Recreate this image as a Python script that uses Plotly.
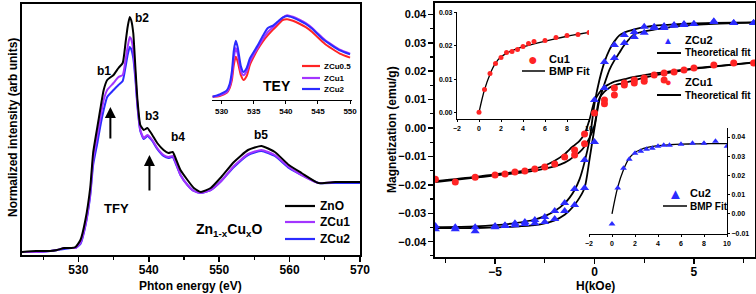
import plotly.graph_objects as go

W, H = 756, 294
FONT = "Liberation Sans, Arial, sans-serif"
VIOLET = "#A335FF"
BLUE = "#2B2BFF"
RED = "#FF2424"

# ---------------- Left panel: TFY O K-edge ----------------
energy = [522, 524, 526, 527, 528, 529, 529.6, 530.3, 531.0, 531.7, 532.1, 532.7, 533.1, 533.6,
          534.1, 535.0, 535.7, 536.3, 536.7, 537.0, 537.3, 537.5, 537.8, 538.1, 538.4, 538.8,
          539.3, 539.8, 540.5, 541.2, 542.1, 542.8, 543.4, 543.8, 544.5, 545.5, 546.4, 547.4,
          548.8, 550.3, 552.1, 554.1, 556.0, 557.9, 559.9, 561.7, 564.1, 566.5, 570]
zno = [0.03, 0.04, 0.04, 0.05, 0.07, 0.07, 0.08, 0.15, 0.35, 0.68, 1.02, 1.28, 1.45, 1.65,
       1.75, 1.80, 1.87, 1.92, 2.12, 2.28, 2.38, 2.35, 2.22, 1.88, 1.55, 1.30,
       1.25, 1.27, 1.20, 1.12, 1.05, 1.02, 1.03, 0.97, 0.85, 0.75, 0.67, 0.63,
       0.67, 0.78, 0.93, 1.05, 1.09, 1.03, 0.90, 0.82, 0.72, 0.73, 0.73]
zcu1 = [0.03, 0.03, 0.04, 0.05, 0.07, 0.07, 0.07, 0.12, 0.30, 0.62, 0.95, 1.20, 1.36, 1.55,
        1.65, 1.72, 1.78, 1.80, 1.95, 2.08, 2.18, 2.16, 2.05, 1.80, 1.50, 1.25,
        1.17, 1.20, 1.15, 1.07, 1.00, 0.98, 0.99, 0.93, 0.80, 0.70, 0.64, 0.62,
        0.65, 0.74, 0.89, 1.01, 1.05, 1.00, 0.88, 0.80, 0.72, 0.73, 0.73]
zcu2 = [0.03, 0.03, 0.04, 0.05, 0.06, 0.07, 0.07, 0.11, 0.29, 0.60, 0.90, 1.12, 1.28, 1.45,
        1.58, 1.65, 1.70, 1.74, 1.88, 2.00, 2.08, 2.06, 1.97, 1.76, 1.48, 1.24,
        1.16, 1.19, 1.14, 1.06, 0.99, 0.97, 0.98, 0.92, 0.80, 0.70, 0.64, 0.62,
        0.65, 0.74, 0.88, 1.00, 1.04, 0.99, 0.87, 0.80, 0.72, 0.72, 0.72]

# ---------------- TEY inset ----------------
tey_energy = [528.6, 529.7, 530.8, 531.25, 531.6, 531.9, 532.2, 532.5, 533.0, 533.4, 533.9, 534.4,
              535.0, 535.6, 536.4, 537.2, 538.0, 538.75, 539.5, 540.2, 541.1, 542.2, 543.1,
              544.1, 545.0, 546.1, 547.2, 548.4, 550.0]
tey_zcu05 = [0.04, 0.05, 0.09, 0.15, 0.25, 0.44, 0.54, 0.48, 0.31, 0.25, 0.30, 0.44,
             0.54, 0.63, 0.73, 0.81, 0.88, 0.94, 1.00, 1.01, 0.99, 0.95, 0.91,
             0.85, 0.78, 0.70, 0.64, 0.58, 0.53]
tey_zcu1 = [0.04, 0.06, 0.10, 0.17, 0.30, 0.53, 0.65, 0.58, 0.36, 0.31, 0.36, 0.48,
            0.57, 0.65, 0.76, 0.85, 0.91, 0.97, 1.03, 1.06, 1.04, 1.00, 0.96,
            0.90, 0.83, 0.75, 0.69, 0.63, 0.58]
tey_zcu2 = [0.04, 0.07, 0.12, 0.20, 0.36, 0.62, 0.74, 0.66, 0.42, 0.35, 0.40, 0.52,
            0.60, 0.68, 0.80, 0.90, 0.93, 0.98, 1.03, 1.05, 1.03, 0.99, 0.95,
            0.89, 0.82, 0.74, 0.68, 0.62, 0.57]

# ---------------- Right panel: M-H loops ----------------
h_desc = [8, 7, 6, 5, 4.5, 4, 3.5, 3, 2.5, 2, 1.5, 1, 0.5, 0, -0.5, -1, -1.5, -2, -2.5, -3,
          -3.5, -4, -4.5, -5, -6, -7, -8]
zcu2_desc = [0.0370, 0.0370, 0.0373, 0.0366, 0.0366, 0.0363, 0.0359, 0.0356, 0.0356, 0.0338,
             0.0327, 0.0292, 0.0232, 0.0099, -0.0113, -0.0215, -0.0264, -0.0292, -0.0313,
             -0.0324, -0.0331, -0.0335, -0.0342, -0.0345, -0.0349, -0.0349, -0.0345]
h_asc = [-8, -7, -6, -5, -4.5, -4, -3.5, -3, -2.5, -2, -1.5, -1, -0.5, 0, 0.5, 1, 1.5, 2, 2.5,
         3, 3.5, 4, 4.5, 5, 6, 7, 8]
zcu2_asc = [-0.0356, -0.0356, -0.0363, -0.0349, -0.0345, -0.0342, -0.0338, -0.0335, -0.0331,
            -0.0320, -0.0292, -0.0271, -0.0211, -0.0049, 0.0141, 0.0246, 0.0299, 0.0320, 0.0335,
            0.0352, 0.0352, 0.0360, 0.0363, 0.0366, 0.0376, 0.0370, 0.0370]
zcu1_desc = [0.0229, 0.0229, 0.0222, 0.0211, 0.0204, 0.0197, 0.0194, 0.0187, 0.0176, 0.0169,
             0.0158, 0.0141, 0.0099, 0.0053, -0.0021, -0.0077, -0.0102, -0.0127, -0.0137,
             -0.0144, -0.0151, -0.0155, -0.0162, -0.0165, -0.0173, -0.0190, -0.0180]
h_asc1 = [-1, -0.5, 0.5, 1, 1.5, 2, 2.5, 3.5]
zcu1_asc = [-0.0095, -0.0055, 0.0085, 0.0116, 0.0151, 0.0158, 0.0165, 0.0169]

h_fit = [-8, -6, -5, -4, -3, -2.5, -2, -1.5, -1.25, -1, -0.75, -0.5, -0.25, 0, 0.25, 0.5,
         0.75, 1, 1.25, 1.5, 2, 2.5, 3, 4, 5, 6, 8]
fit2_desc = [-0.0349, -0.0346, -0.0342, -0.0335, -0.0322, -0.0310, -0.0292, -0.0265, -0.0245,
             -0.0218, -0.0180, -0.0120, -0.0042, 0.0085, 0.0170, 0.0232, 0.0275, 0.0305,
             0.0326, 0.0336, 0.0347, 0.0355, 0.0360, 0.0365, 0.0368, 0.0370, 0.0372]
fit2_asc = [-0.0352, -0.0352, -0.0350, -0.0347, -0.0342, -0.0336, -0.0325, -0.0305, -0.0290,
            -0.0270, -0.0245, -0.0211, -0.0110, 0.0000, 0.0099, 0.0155, 0.0205, 0.0238,
            0.0265, 0.0292, 0.0330, 0.0340, 0.0346, 0.0357, 0.0363, 0.0367, 0.0371]
fit1_desc = [-0.0187, -0.0172, -0.0163, -0.0155, -0.0143, -0.0132, -0.0115, -0.0092, -0.0075,
             -0.0060, -0.0045, -0.0020, 0.0030, 0.0095, 0.0125, 0.0145, 0.0155, 0.0163,
             0.0168, 0.0172, 0.0180, 0.0186, 0.0192, 0.0201, 0.0210, 0.0217, 0.0231]
fit1_asc = [-0.0190, -0.0175, -0.0167, -0.0160, -0.0150, -0.0143, -0.0135, -0.0122, -0.0112,
            -0.0098, -0.0085, -0.0065, -0.0035, 0.0010, 0.0105, 0.0128, 0.0142, 0.0150,
            0.0155, 0.0158, 0.0168, 0.0177, 0.0185, 0.0198, 0.0208, 0.0216, 0.0230]

# ---------------- Insets: BMP fits ----------------
h_bmp = [0, 0.5, 1, 1.5, 2, 2.5, 3, 3.5, 4, 4.5, 5, 6, 7, 8, 9, 10]
cu1_m = [0.0000, 0.0069, 0.0117, 0.0147, 0.0165, 0.0180, 0.0183, 0.0189, 0.0198, 0.0207,
         0.0213, 0.0216, 0.0225, 0.0231, 0.0234, 0.0240]
cu2_m = [-0.0052, 0.0135, 0.0238, 0.0285, 0.0316, 0.0326, 0.0337, 0.0342, 0.0352, 0.0357,
         0.0357, 0.0363, 0.0368, 0.0368, 0.0378, 0.0352]
h_bmpfit = [0, 0.5, 1, 1.5, 2, 2.5, 3, 4, 5, 6, 7, 8, 9, 10]
cu1_fit = [0.0000, 0.0068, 0.0115, 0.0148, 0.0167, 0.0178, 0.0186, 0.0197, 0.0206, 0.0214,
           0.0222, 0.0229, 0.0235, 0.0241]
cu2_fit = [0.0000, 0.0140, 0.0230, 0.0290, 0.0320, 0.0335, 0.0345, 0.0355, 0.0360, 0.0363,
           0.0364, 0.0365, 0.0366, 0.0366]


def px(x):
    return x / W


def py(y):
    return 1 - y / H


fig = go.Figure()

# left main
for yv, col, nm in [(zno, "black", "ZnO"), (zcu1, VIOLET, "ZCu1"), (zcu2, BLUE, "ZCu2")][::-1]:
    fig.add_trace(go.Scatter(x=energy, y=yv, mode="lines", name=nm, xaxis="x", yaxis="y",
                             line=dict(color=col, width=2, shape="spline", smoothing=0.5),
                             showlegend=False))
# TEY inset
for yv, col in [(tey_zcu05, RED), (tey_zcu1, VIOLET), (tey_zcu2, BLUE)]:
    fig.add_trace(go.Scatter(x=tey_energy, y=yv, mode="lines", xaxis="x2", yaxis="y2",
                             line=dict(color=col, width=2, shape="spline", smoothing=0.6),
                             showlegend=False))

# right main fits
for hv, mv in [(h_fit, fit2_desc), (h_fit, fit2_asc), (h_fit, fit1_desc), (h_fit, fit1_asc)]:
    fig.add_trace(go.Scatter(x=hv, y=mv, mode="lines", xaxis="x3", yaxis="y3",
                             line=dict(color="black", width=1.8, shape="spline", smoothing=0.8),
                             showlegend=False))
# right main markers
fig.add_trace(go.Scatter(x=h_desc, y=zcu2_desc, mode="markers", xaxis="x3", yaxis="y3",
                         marker=dict(symbol="triangle-up", size=8, color=BLUE), showlegend=False))
fig.add_trace(go.Scatter(x=h_asc, y=zcu2_asc, mode="markers", xaxis="x3", yaxis="y3",
                         marker=dict(symbol="triangle-up", size=8, color=BLUE), showlegend=False))
fig.add_trace(go.Scatter(x=h_desc, y=zcu1_desc, mode="markers", xaxis="x3", yaxis="y3",
                         marker=dict(symbol="circle", size=7, color=RED), showlegend=False))
fig.add_trace(go.Scatter(x=h_asc1, y=zcu1_asc, mode="markers", xaxis="x3", yaxis="y3",
                         marker=dict(symbol="circle", size=7, color=RED), showlegend=False))

# Cu1 inset
fig.add_trace(go.Scatter(x=h_bmpfit, y=cu1_fit, mode="lines", xaxis="x4", yaxis="y4",
                         line=dict(color="black", width=1.3, shape="spline"), showlegend=False))
fig.add_trace(go.Scatter(x=h_bmp, y=cu1_m, mode="markers", xaxis="x4", yaxis="y4",
                         marker=dict(symbol="circle", size=5, color=RED), showlegend=False))
# Cu2 inset
fig.add_trace(go.Scatter(x=h_bmpfit, y=cu2_fit, mode="lines", xaxis="x5", yaxis="y5",
                         line=dict(color="black", width=1.3, shape="spline"), showlegend=False))
fig.add_trace(go.Scatter(x=h_bmp, y=cu2_m, mode="markers", xaxis="x5", yaxis="y5",
                         marker=dict(symbol="triangle-up", size=6, color=BLUE), showlegend=False))

axis_common = dict(showgrid=False, zeroline=False, showline=True, linecolor="black",
                   ticks="outside", tickcolor="black")

bold = dict(family=FONT, weight="bold", color="black")

fig.update_layout(
    width=W, height=H, margin=dict(l=0, r=0, t=0, b=0, autoexpand=False),
    paper_bgcolor="white", plot_bgcolor="rgba(0,0,0,0)",
    font=dict(family=FONT, color="black"),
    xaxis=dict(**axis_common, domain=[px(22), px(360)], range=[522, 570], anchor="y",
               linewidth=1.6, mirror=True, dtick=10, tick0=530, ticklen=5, tickwidth=1.5,
               ticklabelstandoff=-2,
               minor=dict(dtick=5, ticklen=3, tickwidth=1.2, ticks="outside", tickcolor="black"),
               tickfont=dict(**bold, size=12)),
    yaxis=dict(showgrid=False, zeroline=False, showline=True, linecolor="black", linewidth=1.6,
               mirror=True, ticks="", showticklabels=False, domain=[py(255), py(4)],
               range=[0, 2.51], anchor="x"),
    xaxis2=dict(**axis_common, domain=[px(212), px(352)], range=[528.5, 550.3], anchor="y2",
                linewidth=1.2, dtick=5, tick0=530, ticklen=3, tickwidth=1,
                tickfont=dict(**bold, size=8)),
    yaxis2=dict(visible=False, domain=[py(100), py(5)], range=[0, 1.1875], anchor="x2"),
    xaxis3=dict(**axis_common, domain=[px(435), px(755)], range=[-8.02, 8.07], anchor="y3",
                linewidth=1.6, mirror=True, dtick=5, tick0=0, ticklen=5, tickwidth=1.5,
                ticklabelstandoff=-2,
                minor=dict(dtick=2.5, ticklen=4, tickwidth=1.2, ticks="outside", tickcolor="black"),
                tickfont=dict(**bold, size=12)),
    yaxis3=dict(**axis_common, domain=[py(257), py(3)], range=[-0.0454, 0.044], anchor="x3",
                linewidth=1.6, mirror=True, dtick=0.01, tick0=0, tickformat=".2f", ticklen=5,
                tickwidth=1.5,
                minor=dict(dtick=0.005, ticklen=3, tickwidth=1.2, ticks="outside", tickcolor="black"),
                tickfont=dict(**bold, size=11)),
    xaxis4=dict(**axis_common, domain=[px(457), px(589)], range=[-2, 10], anchor="y4",
                linewidth=1.1, dtick=2, ticklen=2, tickwidth=1, tickfont=dict(**bold, size=7)),
    yaxis4=dict(**axis_common, domain=[py(119), py(12)], range=[-0.002, 0.0302], anchor="x4",
                linewidth=1.1, dtick=0.01, tickformat=".2f", ticklen=2, tickwidth=1,
                tickfont=dict(**bold, size=7)),
    xaxis5=dict(**axis_common, domain=[px(589), px(727)], range=[-2, 10], anchor="y5",
                linewidth=1.1, dtick=2, ticklen=2, tickwidth=1, tickfont=dict(**bold, size=7)),
    yaxis5=dict(**axis_common, domain=[py(234), py(128)], range=[-0.0104, 0.0447], anchor="x5",
                side="right", linewidth=1.1, dtick=0.01, tickformat=".2f", ticklen=2, tickwidth=1,
                tickfont=dict(**bold, size=7)),
)

ann = []


def text(x, y, s, size, xanchor="center", color="black", angle=0, xref="paper", yref="paper"):
    ann.append(dict(x=x, y=y, xref=xref, yref=yref, text=s, showarrow=False, xanchor=xanchor,
                    yanchor="middle", textangle=angle,
                    font=dict(family=FONT, size=size, color=color, weight="bold")))


# axis titles
text(px(13), py(128), "Normalized intensity (arb units)", 12, angle=-90)
text(px(190), py(286), "Phton energy (eV)", 12)
text(px(392), py(130), "Magnetization (emu/g)", 12, angle=-90)
text(px(595), py(286), "H(kOe)", 12)

# left panel labels (data coords)
for e, i, s in [(533.6, 1.84, "b1"), (539.0, 2.37, "b2"), (540.5, 1.39, "b3"),
                (544.1, 1.18, "b4"), (555.9, 1.20, "b5")]:
    text(e, i, s, 12, xref="x", yref="y")
text(535.4, 0.47, "TFY", 13, xref="x", yref="y")
text(551.4, 0.25, "Zn<sub>1-x</sub>Cu<sub>x</sub>O", 14, xref="x", yref="y")
text(px(277), py(86), "TEY", 14)

# arrows
for e, y0, y1 in [(534.55, 1.15, 1.48), (540.1, 0.63, 1.00)]:
    ann.append(dict(x=e, y=y1, ax=e, ay=y0, xref="x", yref="y", axref="x", ayref="y",
                    showarrow=True, arrowhead=2, arrowsize=1.1, arrowwidth=2, arrowcolor="black",
                    text=""))

shapes = []


def legline(x0, x1, y, color, width=2):
    shapes.append(dict(type="line", xref="paper", yref="paper", x0=px(x0), x1=px(x1),
                       y0=py(y), y1=py(y), line=dict(color=color, width=width)))


# left legend
for yy, col, s in [(206, "black", "ZnO"), (222, VIOLET, "ZCu1"), (239, BLUE, "ZCu2")]:
    legline(285, 315, yy, col, 2.2)
    text(px(318), py(yy), s, 12, xanchor="left")
# TEY legend
for yy, col, s in [(66, RED, "ZCu0.5"), (78, VIOLET, "ZCu1"), (89, BLUE, "ZCu2")]:
    legline(302, 320, yy, col, 2.2)
    text(px(322), py(yy), s, 8, xanchor="left")
# right main legend
text(px(668), py(40), "▲", 10, color=BLUE)
text(px(683), py(40), "ZCu2", 11, xanchor="left")
legline(657, 681, 53, "black", 2)
text(px(683), py(53), "Theoretical fit", 10, xanchor="left")
text(px(668), py(82), "●", 11, color=RED)
text(px(683), py(82), "ZCu1", 11, xanchor="left")
legline(657, 681, 95, "black", 2)
text(px(683), py(95), "Theoretical fit", 10, xanchor="left")
# Cu1 inset legend
text(px(533), py(59), "●", 16, color=RED)
text(px(547), py(59), "Cu1", 11, xanchor="left")
legline(522, 545, 71, "black", 1.5)
text(px(547), py(71), "BMP Fit", 11, xanchor="left")
# Cu2 inset legend
text(px(675), py(193), "▲", 15, color=BLUE)
text(px(688), py(193), "Cu2", 11, xanchor="left")
legline(663, 687, 206, "black", 1.5)
text(px(688), py(206), "BMP Fit", 10, xanchor="left")

fig.update_layout(annotations=ann, shapes=shapes)
fig.write_html("out.html", config={"displayModeBar": False, "staticPlot": True},
               post_script="document.body.style.margin='0';document.body.style.overflow='hidden';")
